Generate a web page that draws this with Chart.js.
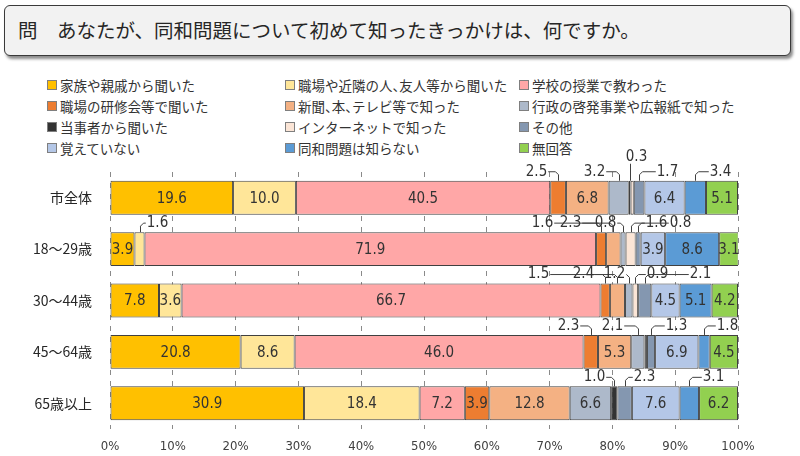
<!DOCTYPE html>
<html>
<head>
<meta charset="utf-8">
<script src="https://cdn.jsdelivr.net/npm/chart.js@4"></script>
<style>
  body { margin: 0; width: 800px; height: 456px; background: #fff; position: relative; overflow: hidden;
         font-family: "Noto Sans CJK JP", sans-serif; color: #262626; }
  #title { position: absolute; left: 4px; top: 5px; width: 787px; height: 51px; box-sizing: border-box;
           border: 1.5px solid #3a3a3a; border-radius: 6px; background: #f2f2f2;
           box-shadow: 2px 3px 3px rgba(0,0,0,0.45); font-size: 19.5px; line-height: 47px; padding-left: 13px; }
  #legend { position: absolute; left: 47px; top: 75px; width: 740px; }
  .item { position: absolute; font-size: 13.5px; white-space: nowrap; display: flex; align-items: center; color: #333; }
  .item .p { font-feature-settings: "halt"; }
  .box { width: 8px; height: 8px; border: 1px solid #7f7f7f; margin-right: 3px; }
  #wrap { position: absolute; left: 0; top: 140px; width: 800px; height: 316px; }
</style>
</head>
<body>
<div id="title">問　あなたが、同和問題について初めて知ったきっかけは、何ですか。</div>
<div id="legend"></div>
<div id="wrap"><canvas id="chart"></canvas></div>
<script>
const categories = ['市全体', '18～29歳', '30～44歳', '45～64歳', '65歳以上'];
const seriesNames = [
  '家族や親戚から聞いた', '職場や近隣の人、友人等から聞いた', '学校の授業で教わった',
  '職場の研修会等で聞いた', '新聞、本、テレビ等で知った', '行政の啓発事業や広報紙で知った',
  '当事者から聞いた', 'インターネットで知った', 'その他',
  '覚えていない', '同和問題は知らない', '無回答'
];
const family   = [19.6, 3.9, 7.8, 20.8, 30.9];
const friends  = [10.0, 1.6, 3.6, 8.6, 18.4];
const school   = [40.5, 71.9, 66.7, 46.0, 7.2];
const training = [2.5, 1.6, 1.5, 2.3, 3.9];
const media    = [6.8, 2.3, 2.4, 5.3, 12.8];
const admin    = [3.2, 0.8, 1.2, 2.1, 6.6];
const person   = [0.3, 0, 0, 0.4, 1.0];
const internet = [0.5, 1.6, 0.9, 0, 0];
const other    = [1.7, 0.8, 2.1, 1.3, 2.3];
const forgot   = [6.4, 3.9, 4.5, 6.9, 7.6];
const unknown  = [3.4, 8.6, 5.1, 1.8, 3.1];
const noAnswer = [5.1, 3.1, 4.2, 4.5, 6.2];
const xTicks = [0, 10, 20, 30, 40, 50, 60, 70, 80, 90, 100];

const allSeries = [family, friends, school, training, media, admin, person, internet, other, forgot, unknown, noAnswer];
const colors = ['#FFC000', '#FFE699', '#FFA7A7', '#ED7D31', '#F4B183', '#ADB9CA',
                '#333333', '#FBE5D6', '#8497B0', '#B4C7E7', '#5B9BD5', '#92D050'];

// callouts above the bars: [series, text x offset from segment centre, level]
const callouts = [
  [[3, -22, 1], [5, -25, 1], [6, 6, 2], [8, 28, 1], [10, 25, 1]],
  [[1, 17, 1], [3, -59, 1], [4, -43, 1], [5, -18, 1], [7, 25, 1], [8, 42, 1]],
  [[3, -67, 1], [4, -34, 1], [5, -15, 1], [7, 22, 1], [8, 55, 1]],
  [[3, -23, 1], [5, -26, 1], [8, 25, 1], [10, 23, 1]],
  [[6, -20, 1], [8, 19, 1], [10, 24, 1]]
];

// legend
const legendCols = [0, 238, 472];
const legend = document.getElementById('legend');
seriesNames.forEach((name, i) => {
  const el = document.createElement('div');
  el.className = 'item';
  el.style.left = legendCols[i % 3] + 'px';
  el.style.top = (Math.floor(i / 3) * 21) + 'px';
  el.innerHTML = `<span class="box" style="background:${colors[i]}"></span>` +
    name.replace(/、/g, '<span class="p">、</span>');
  legend.appendChild(el);
});

const labelFont = '15px "Liberation Sans Narrow", "DejaVu Sans Condensed", sans-serif';

const labelPlugin = {
  id: 'labels',
  afterDatasetsDraw(chart) {
    const ctx = chart.ctx;
    ctx.save();
    ctx.font = labelFont;
    ctx.fillStyle = '#333';
    ctx.textAlign = 'center';
    ctx.textBaseline = 'middle';
    chart.data.datasets.forEach((ds, i) => {
      const meta = chart.getDatasetMeta(i);
      meta.data.forEach((bar, j) => {
        const v = ds.data[j];
        const isCallout = callouts[j].some(c => c[0] === i);
        if (isCallout || v < 3) return;
        ctx.fillText(v.toFixed(1), (bar.x + bar.base) / 2, bar.y + 1);
      });
    });
    ctx.strokeStyle = '#404040';
    ctx.lineWidth = 1;
    callouts.forEach((row, j) => {
      row.forEach(([i, dx, level]) => {
        const bar = chart.getDatasetMeta(i).data[j];
        const v = chart.data.datasets[i].data[j];
        const sx = Math.round((bar.x + bar.base) / 2) + 0.5;
        const top = bar.y - bar.height / 2;
        const ty = top - (level === 1 ? 9 : 24);
        const tx = sx + dx;
        const txt = v.toFixed(1);
        const w = ctx.measureText(txt).width;
        ctx.beginPath();
        if (Math.abs(dx) < w / 2 + 2) {
          ctx.moveTo(sx, ty + 7);
          ctx.lineTo(sx, top);
        } else {
          const ex = dx < 0 ? tx + w / 2 + 1 : tx - w / 2 - 1;
          ctx.moveTo(ex, ty);
          ctx.lineTo(sx + (dx < 0 ? -3 : 3), ty);
          ctx.lineTo(sx, ty + 3);
          ctx.lineTo(sx, top);
        }
        ctx.stroke();
        ctx.fillText(txt, tx, ty);
      });
    });
    ctx.restore();
  }
};

new Chart(document.getElementById('chart'), {
  type: 'bar',
  data: {
    labels: categories,
    datasets: allSeries.map((data, i) => ({
      label: seriesNames[i],
      data: data,
      backgroundColor: colors[i],
      borderColor: '#404040',
      borderWidth: 1,
      borderSkipped: false,
      barPercentage: 0.66,
      categoryPercentage: 1
    }))
  },
  options: {
    indexAxis: 'y',
    responsive: true,
    maintainAspectRatio: false,
    animation: false,
    layout: { padding: { top: 32, right: 62, left: 0, bottom: 0 } },
    plugins: { legend: { display: false }, tooltip: { enabled: false } },
    scales: {
      x: {
        stacked: true,
        min: 0,
        max: 100,
        afterBuildTicks: scale => { scale.ticks = xTicks.map(v => ({ value: v })); },
        afterFit: scale => { scale.height = 27; },
        grid: { color: '#8a8a8a', drawTicks: false },
        border: { display: false, dash: [5, 6] },
        ticks: { padding: 10, color: '#404040', font: { size: 13, family: 'Liberation Sans Narrow, DejaVu Sans Condensed, sans-serif' },
                 callback: v => v + '%' }
      },
      y: {
        stacked: true,
        afterFit: scale => { scale.width = 110; },
        grid: { display: false },
        border: { display: false },
        ticks: { padding: 10, color: '#262626', font: { size: 14, family: 'Noto Sans CJK JP' } }
      }
    }
  },
  plugins: [labelPlugin]
});
</script>
</body>
</html>
